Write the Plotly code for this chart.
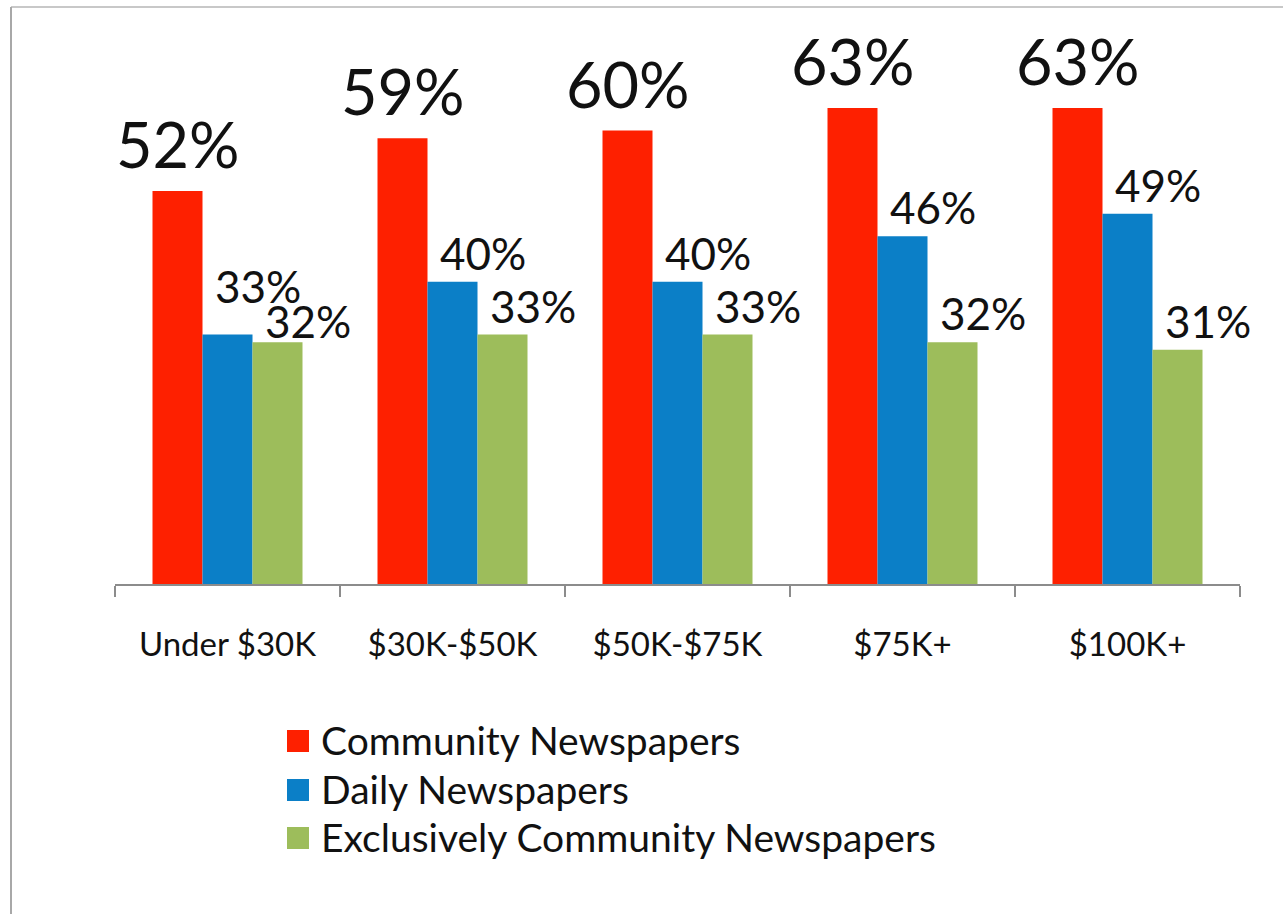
import plotly.graph_objects as go

# Income brackets and readership shares (%)
categories = ["Under $30K", "$30K-$50K", "$50K-$75K", "$75K+", "$100K+"]
community = [52, 59, 60, 63, 63]
daily = [33, 40, 40, 46, 49]
exclusive = [32, 33, 33, 32, 31]
series_names = ["Community Newspapers", "Daily Newspapers", "Exclusively Community Newspapers"]
series_colors = ["#FE2000", "#0B7FC7", "#9DBD5B"]

FONT = "Lato, 'Open Sans', sans-serif"
W, H = 1283, 914
M_L, M_R, M_T, M_B = 115, 43, 55, 330
BARGAP = 1 / 3
plot_w = W - M_L - M_R
plot_h = H - M_T - M_B

# extra vertical nudges (px) for the crowded labels in the first group
label_nudge = {(1, 0): 20, (2, 0): -8}


def px_x(px):
    return (px - M_L) / plot_w


def px_y(py):
    return (H - M_B - py) / plot_h


fig = go.Figure()
series = [community, daily, exclusive]
for name, vals, col in zip(series_names, series, series_colors):
    fig.add_trace(go.Bar(
        x=categories, y=vals, name=name,
        marker=dict(color=col, line=dict(width=0)),
        showlegend=False,
    ))

# value labels above each bar
bar_w = (1 - BARGAP) / len(series)
annotations = []
for s, vals in enumerate(series):
    off = (s - 1) * bar_w
    for i, v in enumerate(vals):
        big = s == 0
        annotations.append(dict(
            x=i + off, y=v, xref="x", yref="y",
            text=f"{v}%", showarrow=False,
            xanchor="center", yanchor="bottom",
            xshift=0 if big else 30,
            yshift=(8 if big else 1) + label_nudge.get((s, i), 0),
            font=dict(family=FONT, size=63 if big else 44, color="#111111"),
        ))

# legend drawn as swatches + labels stacked below the axis
shapes = []
row_y = [741, 790, 838]
for name, col, ry in zip(series_names, series_colors, row_y):
    shapes.append(dict(
        type="rect", xref="paper", yref="paper",
        x0=px_x(287), x1=px_x(309), y0=px_y(ry + 11), y1=px_y(ry - 11),
        fillcolor=col, line=dict(width=0),
    ))
    annotations.append(dict(
        x=px_x(319), y=px_y(ry - 1), xref="paper", yref="paper",
        text=name, showarrow=False, xanchor="left", yanchor="middle",
        font=dict(family=FONT, size=39, color="#111111"),
    ))

# thin frame lines along the top and left edges
shapes.append(dict(type="line", xref="paper", yref="paper",
                   x0=px_x(11), x1=px_x(W), y0=px_y(7), y1=px_y(7),
                   line=dict(color="#C8C8C8", width=2)))
shapes.append(dict(type="line", xref="paper", yref="paper",
                   x0=px_x(11), x1=px_x(11), y0=px_y(7), y1=px_y(H),
                   line=dict(color="#A8A8A8", width=2)))

fig.update_layout(
    width=W, height=H,
    margin=dict(l=M_L, r=M_R, t=M_T, b=M_B, autoexpand=False),
    paper_bgcolor="white", plot_bgcolor="white",
    barmode="group", bargap=BARGAP, bargroupgap=0,
    annotations=annotations, shapes=shapes,
    showlegend=False,
    xaxis=dict(
        range=[-0.5, len(categories) - 0.5], automargin=False,
        showline=True, linecolor="#8C8C8C", linewidth=1.5,
        ticks="outside", tickson="boundaries", ticklen=11, tickcolor="#8C8C8C",
        tickwidth=1.5, showgrid=False, zeroline=False,
        tickfont=dict(family=FONT, size=33, color="#111111"),
        ticklabelstandoff=31,
    ),
    yaxis=dict(range=[0, 70], visible=False, showgrid=False, zeroline=False),
)

fig.write_html("out.html")
